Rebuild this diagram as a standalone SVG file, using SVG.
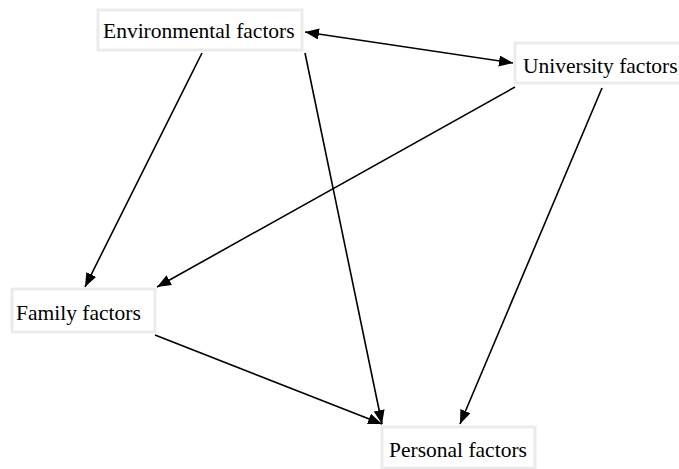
<svg xmlns="http://www.w3.org/2000/svg" width="679" height="469" viewBox="0 0 679 469">
<style>
.box{fill:#fff;stroke:#ebebeb;stroke-width:3}
.lbl{font-family:"Liberation Serif","Times New Roman",serif;font-size:21.5px;fill:#000}
.edge{stroke:#000;stroke-width:1.6;fill:none}
</style>
<defs>
<marker id="ah" markerUnits="userSpaceOnUse" markerWidth="15" markerHeight="12" refX="14" refY="5.5" orient="auto-start-reverse">
<path d="M0,0 L14,5.5 L0,11 z" fill="#000"/>
</marker>
</defs>
<rect width="679" height="469" fill="#fff"/>
<g id="connectors">
<line class="edge" x1="305" y1="32" x2="513" y2="63" marker-start="url(#ah)" marker-end="url(#ah)"/>
<line class="edge" x1="202" y1="53" x2="85" y2="287" marker-end="url(#ah)"/>
<line class="edge" x1="305" y1="53" x2="382" y2="424" marker-end="url(#ah)"/>
<line class="edge" x1="515" y1="87" x2="157" y2="287" marker-end="url(#ah)"/>
<line class="edge" x1="602" y1="88" x2="460" y2="424" marker-end="url(#ah)"/>
<line class="edge" x1="155" y1="335" x2="382" y2="424" marker-end="url(#ah)"/>
</g>
<g id="env">
<rect class="box" x="98" y="10" width="204" height="40"/>
<text class="lbl" x="103" y="38">Environmental factors</text>
</g>
<g id="univ">
<rect class="box" x="515" y="43" width="200" height="40"/>
<text class="lbl" x="523" y="73">University factors</text>
</g>
<g id="family">
<rect class="box" x="12" y="289" width="143" height="43"/>
<text class="lbl" x="16" y="320">Family factors</text>
</g>
<g id="personal">
<rect class="box" x="382" y="427" width="153" height="41"/>
<text class="lbl" x="389" y="457">Personal factors</text>
</g>
</svg>
